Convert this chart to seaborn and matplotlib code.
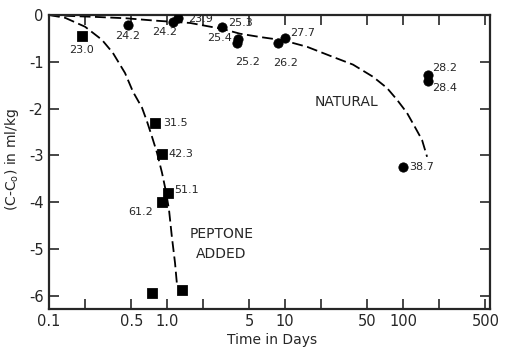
import numpy as np
import pandas as pd
import matplotlib
matplotlib.use("Agg")
import matplotlib.pyplot as plt
import seaborn as sns
from matplotlib.ticker import FixedLocator, FixedFormatter, NullLocator

# natural series (circles): time in days, C-C0, label
nat_days = [0.467, 1.12, 1.24, 2.92, 4.0, 3.92, 10.0, 8.73, 163, 163, 100]
nat_vals = [-0.21, -0.145, -0.06, -0.25, -0.51, -0.59, -0.49, -0.59, -1.28, -1.41, -3.24]
nat_labels = ["24.2", "24.2", "23.9", "25.3", "25.4", "25.2", "27.7", "26.2", "28.2", "28.4", "38.7"]

# peptone added series (squares)
pep_days = [0.19, 0.79, 0.91, 1.02, 0.91, 0.75, 1.34]
pep_vals = [-0.44, -2.30, -2.97, -3.80, -3.99, -5.94, -5.87]
pep_labels = ["23.0", "31.5", "42.3", "51.1", "61.2", "", ""]

# hand drawn trend curves
nat_curve_x = [0.1, 0.15, 0.245, 0.45, 0.79, 1.57, 2.98, 4.16, 6.14, 9.62, 15.4, 24,
               37.7, 55.7, 73.2, 88.9, 108, 126, 145, 160]
nat_curve_y = [0.0, -0.02, -0.04, -0.07, -0.12, -0.17, -0.30, -0.40, -0.47, -0.54, -0.68,
               -0.87, -1.06, -1.32, -1.56, -1.81, -2.09, -2.39, -2.67, -3.03]
pep_curve_x = [0.1, 0.137, 0.202, 0.281, 0.348, 0.441, 0.515, 0.614, 0.678, 0.746,
               0.822, 0.907, 0.981, 1.04, 1.10, 1.17, 1.22]
pep_curve_y = [0.0, -0.06, -0.25, -0.53, -0.81, -1.24, -1.64, -1.98, -2.28, -2.60,
               -2.94, -3.37, -3.78, -4.16, -4.74, -5.30, -5.81]

x_ticks = [0.1, 0.2, 0.5, 1, 2, 5, 10, 20, 50, 100, 200, 500]
x_ticklabels = ["0.1", "", "0.5", "1.0", "", "5", "10", "", "50", "100", "", "500"]
y_ticks = [0, -1, -2, -3, -4, -5, -6]
y_ticklabels = ["0", "-1", "-2", "-3", "-4", "-5", "-6"]

sns.set_style("ticks")
plt.rcParams["font.family"] = ["DejaVu Sans"]

fig = plt.figure(figsize=(5.05, 3.49), dpi=100)
ax = fig.add_axes([0.097, 0.115, 0.874, 0.842])

dash = (6, 2.5)
sns.lineplot(x=nat_curve_x, y=nat_curve_y, sort=False, estimator=None, ax=ax,
             color="black", lw=1.3, linestyle=(0, dash))
sns.lineplot(x=pep_curve_x, y=pep_curve_y, sort=False, estimator=None, ax=ax,
             color="black", lw=1.3, linestyle=(0, dash))

nat = pd.DataFrame({"days": nat_days, "val": nat_vals})
pep = pd.DataFrame({"days": pep_days, "val": pep_vals})
sns.scatterplot(data=nat, x="days", y="val", marker="o", s=45, color="black",
                edgecolor="black", ax=ax, zorder=5)
sns.scatterplot(data=pep, x="days", y="val", marker="s", s=50, color="black",
                edgecolor="black", ax=ax, zorder=5)

# label offsets in pixels and alignment
nat_off = [(0, -11, "center"), (-8, -10, "center"), (10, -1, "left"), (6, 4, "left"),
           (-6, 1, "right"), (11, -19, "center"), (5, 5, "left"), (8, -20, "center"),
           (4, 7, "left"), (4, -7, "left"), (6, 0, "left")]
pep_off = [(0, -14, "center"), (8, 0, "left"), (6, 0, "left"), (6, 3, "left"),
           (-9, -10, "right"), (0, 0, "left"), (0, 0, "left")]

for x, y, t, (dx, dy, ha) in zip(nat_days, nat_vals, nat_labels, nat_off):
    ax.annotate(t, (x, y), xytext=(dx, dy), textcoords="offset pixels",
                ha=ha, va="center", fontsize=8)
for x, y, t, (dx, dy, ha) in zip(pep_days, pep_vals, pep_labels, pep_off):
    if t:
        ax.annotate(t, (x, y), xytext=(dx, dy), textcoords="offset pixels",
                    ha=ha, va="center", fontsize=8)

ax.text(33.5, -1.85, "NATURAL", ha="center", va="center", fontsize=10)
ax.text(2.9, -4.68, "PEPTONE", ha="center", va="center", fontsize=10)
ax.text(2.9, -5.1, "ADDED", ha="center", va="center", fontsize=10)

ax.set_xscale("log")
ax.set_xlim(0.1, 550)
ax.set_ylim(-6.28, 0)
ax.xaxis.set_major_locator(FixedLocator(x_ticks))
ax.xaxis.set_major_formatter(FixedFormatter(x_ticklabels))
ax.xaxis.set_minor_locator(NullLocator())
ax.yaxis.set_major_locator(FixedLocator(y_ticks))
ax.yaxis.set_major_formatter(FixedFormatter(y_ticklabels))

ax.tick_params(direction="in", length=7, width=1.2, labelsize=10.5,
               top=True, right=True, pad=4)
for s in ax.spines.values():
    s.set_linewidth(1.6)
    s.set_visible(True)

ax.set_xlabel("Time in Days", fontsize=10)
ax.set_ylabel("(C-C$_{\\mathregular{o}}$) in ml/kg", fontsize=10)
ax.xaxis.set_label_coords(0.506, -0.082)
ax.yaxis.set_label_coords(-0.063, 0.507)

fig.savefig("out.png", dpi=100)
